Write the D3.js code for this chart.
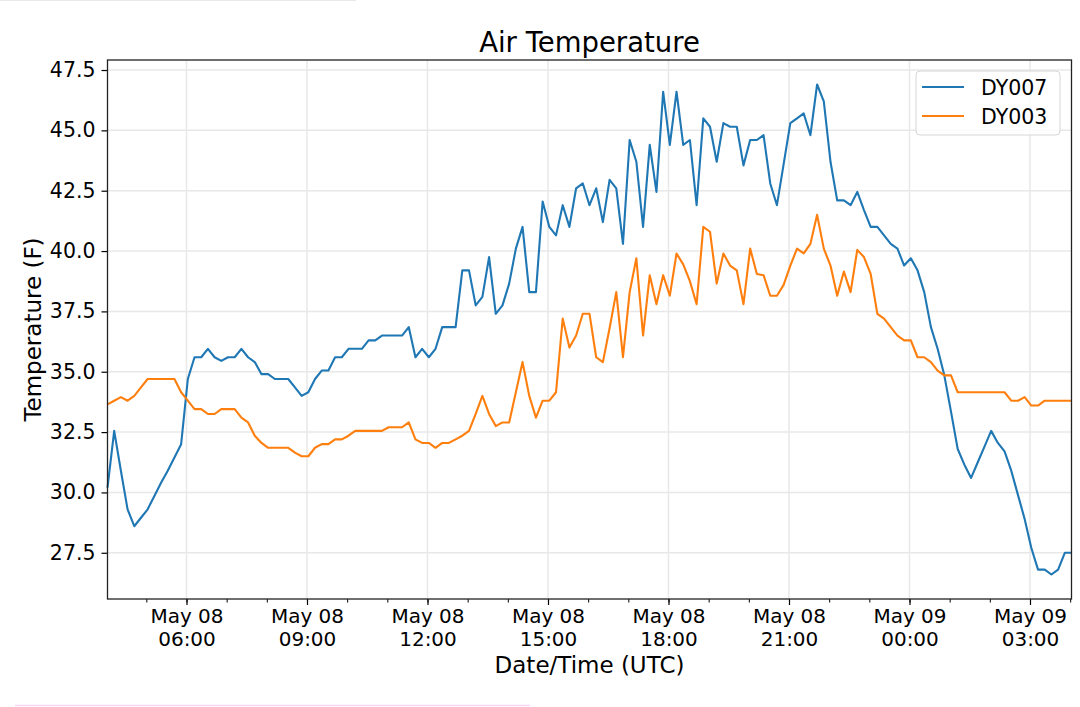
<!DOCTYPE html>
<html>
<head>
<meta charset="utf-8">
<script src="https://cdn.jsdelivr.net/npm/d3@7"></script>
<style>
  body { margin: 0; background: #fff; }
  svg text { font-family: "DejaVu Sans", sans-serif; fill: #000; }
</style>
</head>
<body>
<svg id="chart" width="1080" height="707"></svg>
<script>
const width = 1080;
const height = 707;
const margin = { top: 60, right: 8.5, bottom: 108, left: 107.5 };

// readings every 10 minutes starting May 08 04:02 UTC
const startTime = Date.UTC(2019, 4, 8, 4, 2);
const stepMinutes = 10;

const seriesNames = ["DY007", "DY003"];
const seriesColors = ["#1f77b4", "#ff7f0e"];

const dy007 = [
  30.2, 32.55, 30.9, 29.3, 28.6, 28.95, 29.3, 29.85, 30.4, 30.9,
  31.45, 32.0, 34.7, 35.6, 35.6, 35.95, 35.6, 35.45, 35.6, 35.6,
  35.95, 35.6, 35.4, 34.9, 34.9, 34.7, 34.7, 34.7, 34.35, 34.0,
  34.15, 34.7, 35.05, 35.05, 35.6, 35.6, 35.95, 35.95, 35.95, 36.3,
  36.3, 36.5, 36.5, 36.5, 36.5, 36.85, 35.6, 35.95, 35.6, 35.95,
  36.85, 36.85, 36.85, 39.2, 39.2, 37.75, 38.1, 39.75, 37.4, 37.75,
  38.65, 40.1, 41.0, 38.3, 38.3, 42.05, 41.0, 40.65, 41.9, 41.0,
  42.6, 42.8, 41.9, 42.6, 41.2, 42.95, 42.6, 40.3, 44.6, 43.7,
  41.0, 44.4, 42.45, 46.6, 44.4, 46.6, 44.4, 44.6, 41.9, 45.5,
  45.15, 43.7, 45.3, 45.15, 45.15, 43.55, 44.6, 44.6, 44.8, 42.8,
  41.9, 43.6, 45.3, 45.5, 45.7, 44.8, 46.9, 46.2, 43.7, 42.1,
  42.1, 41.9, 42.45, 41.7, 41.0, 41.0, 40.65, 40.3, 40.1, 39.4,
  39.7, 39.2, 38.3, 36.85, 35.95, 34.85, 33.35, 31.8, 31.15, 30.6,
  31.25, 31.9, 32.55, 32.05, 31.7, 30.9, 29.9, 28.9, 27.7, 26.8,
  26.8, 26.6, 26.8, 27.5, 27.5
];

const dy003 = [
  33.65, 33.8, 33.95, 33.8, 34.0, 34.35, 34.7, 34.7, 34.7, 34.7,
  34.7, 34.15, 33.8, 33.45, 33.45, 33.25, 33.25, 33.45, 33.45, 33.45,
  33.1, 32.9, 32.35, 32.05, 31.85, 31.85, 31.85, 31.85, 31.65, 31.5,
  31.5, 31.85, 32.0, 32.0, 32.2, 32.2, 32.35, 32.55, 32.55, 32.55,
  32.55, 32.55, 32.7, 32.7, 32.7, 32.9, 32.2, 32.05, 32.05, 31.85,
  32.05, 32.05, 32.2, 32.35, 32.55, 33.25, 34.0, 33.25, 32.75, 32.9,
  32.9, 34.15, 35.4, 34.0, 33.1, 33.8, 33.8, 34.15, 37.2, 36.0,
  36.5, 37.4, 37.4, 35.6, 35.4, 36.8, 38.3, 35.6, 38.3, 39.7,
  36.5, 39.0, 37.8, 39.0, 38.15, 39.9, 39.45, 38.75, 37.8, 41.0,
  40.8, 38.65, 39.9, 39.4, 39.2, 37.8, 40.1, 39.05, 39.0, 38.15,
  38.15, 38.6, 39.4, 40.1, 39.9, 40.3, 41.5, 40.1, 39.4, 38.15,
  39.15, 38.3, 40.05, 39.75, 39.05, 37.4, 37.2, 36.85, 36.5, 36.3,
  36.3, 35.6, 35.6, 35.4, 35.05, 34.85, 34.85, 34.15, 34.15, 34.15,
  34.15, 34.15, 34.15, 34.15, 34.15, 33.8, 33.8, 33.95, 33.6, 33.6,
  33.8, 33.8, 33.8, 33.8, 33.8
];

const yTicks = [27.5, 30.0, 32.5, 35.0, 37.5, 40.0, 42.5, 45.0, 47.5];

const times = dy007.map((d, i) => new Date(startTime + i * stepMinutes * 60000));
const series = [dy007, dy003];

const svg = d3.select("#chart");
const plotW = width - margin.left - margin.right;
const plotH = height - margin.top - margin.bottom;

// matplotlib style 5% y margins, no x margins
const allVals = dy007.concat(dy003);
const yMin = d3.min(allVals);
const yMax = d3.max(allVals);
const pad = (yMax - yMin) * 0.05;

const xScale = d3.scaleUtc()
  .domain([times[0], times[times.length - 1]])
  .range([margin.left, margin.left + plotW]);

const yScale = d3.scaleLinear()
  .domain([yMin - pad, yMax + pad])
  .range([margin.top + plotH, margin.top]);

// grid
const grid = svg.append("g");
grid.selectAll(".vgrid")
  .data(xScale.ticks(d3.utcHour.every(3)))
  .enter()
  .append("line")
  .attr("x1", (d) => xScale(d))
  .attr("x2", (d) => xScale(d))
  .attr("y1", margin.top)
  .attr("y2", margin.top + plotH)
  .attr("stroke", "#e8e8e8")
  .attr("stroke-width", 1.5);
grid.selectAll(".hgrid")
  .data(yTicks)
  .enter()
  .append("line")
  .attr("x1", margin.left)
  .attr("x2", margin.left + plotW)
  .attr("y1", (d) => yScale(d))
  .attr("y2", (d) => yScale(d))
  .attr("stroke", "#e8e8e8")
  .attr("stroke-width", 1.5);

// lines
const line = d3.line()
  .x((d, i) => xScale(times[i]))
  .y((d) => yScale(d));

series.forEach((s, j) => {
  svg.append("path")
    .datum(s)
    .attr("fill", "none")
    .attr("stroke", seriesColors[j])
    .attr("stroke-width", 2.1)
    .attr("stroke-linejoin", "round")
    .attr("d", line);
});

// axes
const xMinor = d3.axisBottom(xScale)
  .ticks(d3.utcHour.every(1))
  .tickSize(3.5)
  .tickFormat("");
svg.append("g")
  .attr("transform", `translate(0,${margin.top + plotH})`)
  .call(xMinor)
  .call((g) => g.select(".domain").remove())
  .selectAll("line").attr("stroke", "#000").attr("stroke-width", 1);

const xAxis = d3.axisBottom(xScale)
  .ticks(d3.utcHour.every(3))
  .tickSize(6)
  .tickPadding(6)
  .tickFormat("");
const xg = svg.append("g")
  .attr("transform", `translate(0,${margin.top + plotH})`)
  .call(xAxis);
xg.select(".domain").remove();
xg.selectAll("line").attr("stroke", "#000").attr("stroke-width", 1.2);
xg.selectAll(".tick").each(function (d) {
  const t = d3.select(this).select("text")
    .attr("font-size", 20)
    .attr("fill", "#000")
    .attr("y", 0)
    .attr("dy", null);
  t.append("tspan").attr("x", 0).attr("y", 24).text(d3.utcFormat("%b %d")(d));
  t.append("tspan").attr("x", 0).attr("y", 47).text(d3.utcFormat("%H:%M")(d));
});

const yAxis = d3.axisLeft(yScale)
  .tickValues(yTicks)
  .tickSize(6)
  .tickPadding(6)
  .tickFormat(d3.format(".1f"));
const yg = svg.append("g")
  .attr("transform", `translate(${margin.left},0)`)
  .call(yAxis);
yg.select(".domain").remove();
yg.selectAll("line").attr("stroke", "#000").attr("stroke-width", 1.2);
yg.selectAll("text").attr("font-size", 20.5).attr("fill", "#000");

// frame
svg.append("rect")
  .attr("x", margin.left)
  .attr("y", margin.top)
  .attr("width", plotW)
  .attr("height", plotH)
  .attr("fill", "none")
  .attr("stroke", "#222")
  .attr("stroke-width", 1.3);

// title and labels
svg.append("text")
  .attr("x", margin.left + plotW / 2)
  .attr("y", 51.5)
  .attr("text-anchor", "middle")
  .attr("font-size", 27.5)
  .text("Air Temperature");

svg.append("text")
  .attr("x", margin.left + plotW / 2)
  .attr("y", 673)
  .attr("text-anchor", "middle")
  .attr("font-size", 23)
  .text("Date/Time (UTC)");

svg.append("text")
  .attr("transform", `translate(41,${margin.top + plotH / 2}) rotate(-90)`)
  .attr("text-anchor", "middle")
  .attr("font-size", 23)
  .text("Temperature (F)");

// legend
const legend = svg.append("g").attr("transform", "translate(916,71)");
legend.append("rect")
  .attr("width", 144)
  .attr("height", 64)
  .attr("rx", 4)
  .attr("fill", "#fff")
  .attr("fill-opacity", 0.8)
  .attr("stroke", "#d6d6d6");
seriesNames.forEach((name, j) => {
  const yy = 16 + j * 29;
  legend.append("line")
    .attr("x1", 6).attr("x2", 48)
    .attr("y1", yy).attr("y2", yy)
    .attr("stroke", seriesColors[j])
    .attr("stroke-width", 2.1);
  legend.append("text")
    .attr("x", 65)
    .attr("y", yy + 7.5)
    .attr("font-size", 20.5)
    .text(name);
});

// faint screenshot edges
svg.append("line")
  .attr("x1", 0).attr("x2", 356).attr("y1", 0.5).attr("y2", 0.5)
  .attr("stroke", "#e8e8e8");
svg.append("line")
  .attr("x1", 15).attr("x2", 530).attr("y1", 705.5).attr("y2", 705.5)
  .attr("stroke", "#f7d6f7").attr("stroke-width", 1.5);
</script>
</body>
</html>
